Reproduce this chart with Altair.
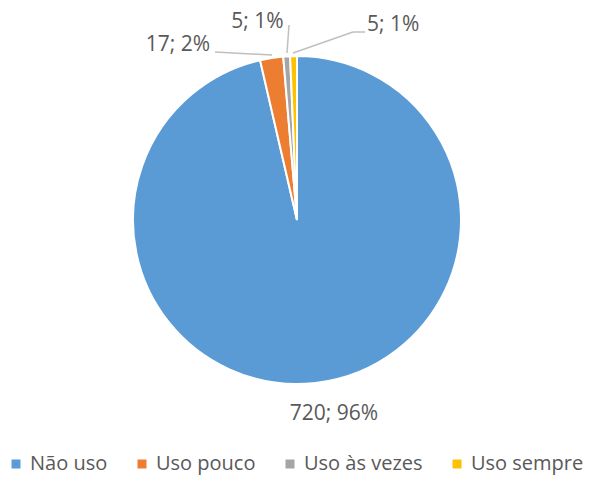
import altair as alt
import pandas as pd

cats = ["Não uso", "Uso pouco", "Uso às vezes", "Uso sempre"]
values = [720, 17, 5, 5]
pcts = ["96%", "2%", "1%", "1%"]
colors = ["#5B9BD5", "#ED7D31", "#A5A5A5", "#FFC000"]

df = pd.DataFrame({
    "cat": cats,
    "value": values,
    "idx": list(range(len(cats))),
    "label": [f"{v}; {p}" for v, p in zip(values, pcts)],
})

CX, CY, R = 289, 212, 164
FONT = "Open Sans"
TXT = "#595959"
LEAD = "#BFBFBF"

base = alt.Chart(df).encode(
    theta=alt.Theta("value:Q", stack=True),
    order=alt.Order("idx:Q", sort="ascending"),
)

pie = base.mark_arc(outerRadius=R, stroke="white", strokeWidth=2).encode(
    x=alt.value(CX), y=alt.value(CY),
    color=alt.Color(
        "cat:N",
        sort=cats,
        scale=alt.Scale(domain=cats, range=colors),
        legend=alt.Legend(
            orient="none", legendX=-2, legendY=446, direction="horizontal",
            title=None, symbolType="square", symbolSize=81, padding=0,
            symbolStrokeWidth=0, labelFontSize=20, labelFont=FONT,
            labelColor=TXT, columnPadding=24, labelOffset=4,
        ),
    ),
)


def label_layer(cat, radius, align, dx, dy):
    return base.mark_text(
        font=FONT, fontSize=21, color=TXT, align=align, baseline="middle",
        dx=dx, dy=dy,
    ).encode(
        x=alt.value(CX), y=alt.value(CY),
        radius=alt.value(radius),
        detail="cat:N",
        text=alt.condition(f"datum.cat == '{cat}'", alt.Text("label:N"), alt.value("")),
    )


labels = [
    label_layer("Não uso", 193, "center", 15, 2),
    label_layer("Uso pouco", 180, "right", -59, 3),
    label_layer("Uso às vezes", 200, "center", -27, 2),
    label_layer("Uso sempre", 195, "left", 74, 0),
]


def seg(x1, y1, x2, y2):
    return alt.Chart(df.head(1)).mark_rule(color=LEAD, strokeWidth=1.5).encode(
        x=alt.value(x1), y=alt.value(y1), x2=alt.value(x2), y2=alt.value(y2)
    )


leaders = [
    seg(207, 44, 264, 47),
    seg(281, 17, 279, 45),
    seg(357, 24, 345, 24),
    seg(345, 24, 285, 45),
]

chart = alt.layer(pie, *leaders, *labels).properties(
    width=580, height=473, padding=0, autosize="none"
).configure_view(stroke=None)

chart.save("out.html", embed_options={"renderer": "svg", "actions": False})
